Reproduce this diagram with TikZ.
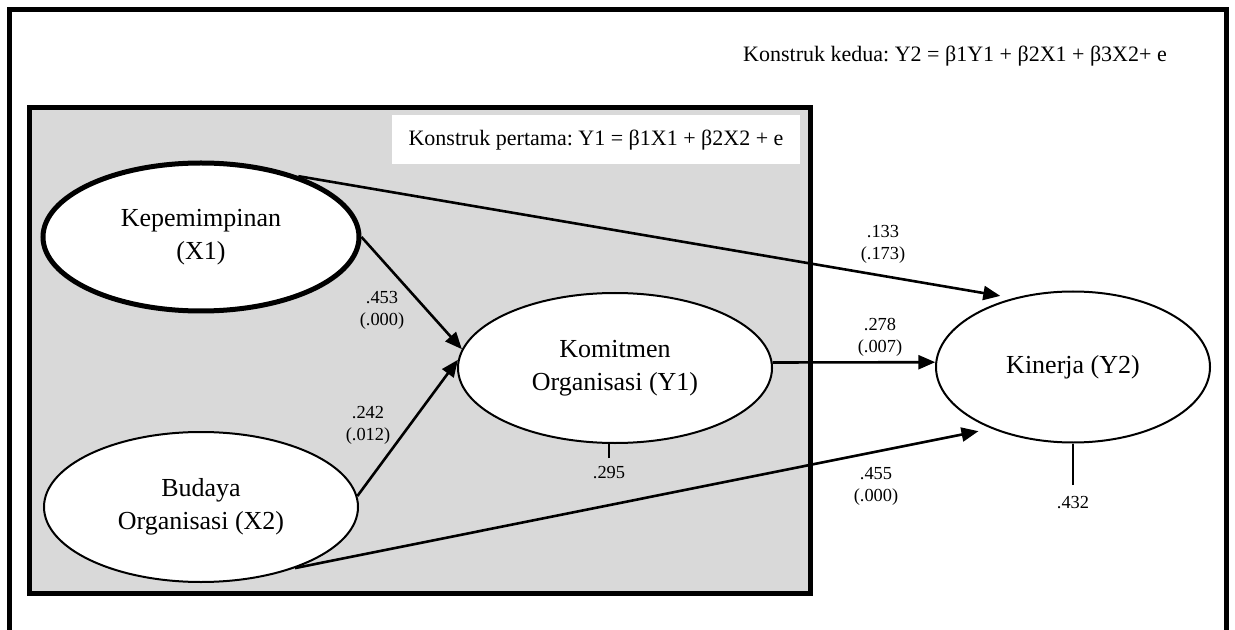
\documentclass[tikz,border=0pt]{standalone}
\usepackage{fontspec}
\setmainfont{Liberation Serif}
\usetikzlibrary{arrows.meta,positioning,shapes.geometric}
\definecolor{shade}{HTML}{D9D9D9}
\frenchspacing

\begin{document}
\begin{tikzpicture}[x=0.5pt,y=-0.5pt,
    latent/.style={draw,ellipse,fill=white,line width=1pt,inner sep=0pt,align=center,font=\fontsize{13}{16.5}\selectfont},
    effect/.style={line width=1.3pt,-{Triangle[length=8.5pt,width=7pt]}},
    coef/.style={font=\fontsize{9.2}{11}\selectfont,align=center,inner sep=0pt},
    errline/.style={line width=0.8pt},
    frame/.style={line width=2.5pt}]
    \useasboundingbox (0,0) rectangle (1235,630);
    \draw[frame] (9.5,645) -- (9.5,9.5) -- (1226.5,9.5) -- (1226.5,645);
    \draw[frame,fill=shade] (29.5,107.5) rectangle (810,593);
    \node[font=\fontsize{11}{13}\selectfont] (eq2) at (955,56) {Konstruk kedua: Y2 = β1Y1 + β2X1 + β3X2+ e};
    \node[fill=white,minimum width=204pt,minimum height=24.5pt,font=\fontsize{11}{13}\selectfont] (eq1) at (596,140) {Konstruk pertama: Y1 = β1X1 + β2X2 + e};
    \node[latent,line width=2.5pt,minimum width=158pt,minimum height=74pt] (x1) at (201,237) {Kepemimpinan\\(X1)};
    \node[latent,minimum width=157pt,minimum height=75pt] (x2) at (201,507) {Budaya\\Organisasi (X2)};
    \node[latent,minimum width=157pt,minimum height=75pt] (y1) at (615,368) {Komitmen\\Organisasi (Y1)};
    \node[latent,minimum width=137pt,minimum height=75.5pt] (y2) at (1073,367) {Kinerja (Y2)};
    \draw[effect,shorten >=6.5pt] (x1.32) -- (y2.131);
    \draw[effect] (x1.east) -- (y1.173);
    \draw[effect] (x2.4) -- (y1.177);
    \draw[effect] (y1.2) -- (y2.178);
    \draw[effect,shorten >=6.5pt] (x2.-33) -- (y2.217);
    \node[coef] (c1) at (382,310) {.453\\(.000)};
    \node[coef] (c2) at (368,425) {.242\\(.012)};
    \node[coef] (c3) at (883,244) {.133\\(.173)};
    \node[coef] (c4) at (880,337) {.278\\(.007)};
    \node[coef] (c5) at (876,486) {.455\\(.000)};
    \node[coef] (r1) at (609,473) {.295};
    \node[coef] (r2) at (1073,503) {.432};
    \draw[errline] (r1) ++(0,-15) -- (r1 |- y1.south);
    \draw[errline] (r2) ++(0,-18) -- (r2 |- y2.south);
\end{tikzpicture}
\end{document}
